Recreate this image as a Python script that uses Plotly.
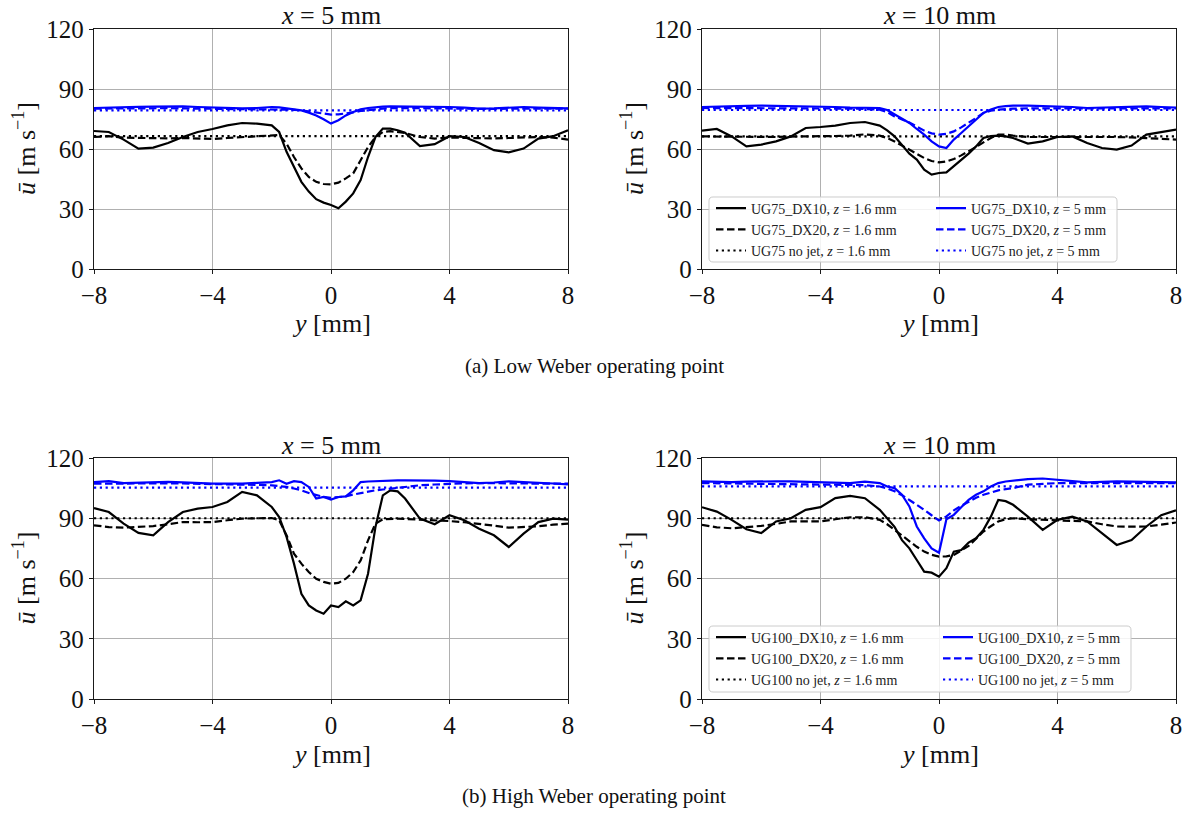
import plotly.graph_objects as go

W, H = 1188, 813
FONT = "Liberation Serif"

# ---------------- data ----------------
y_mm = [-8, -7.5, -7, -6.5, -6, -5.5, -5, -4.5, -4, -3.5, -3, -2.5, -2,
        -1.75, -1.5, -1.25, -1, -0.75, -0.5, -0.25, 0, 0.25, 0.5, 0.75, 1, 1.25, 1.5, 1.75, 2, 2.25,
        2.5, 3, 3.5, 4, 4.5, 5, 5.5, 6, 6.5, 7, 7.5, 8]
y_nojet = [-8, 8]

# (a) low Weber, x = 5 mm
a_dx10_z16 = [69.0, 68.5, 64.7, 60.2, 60.7, 63.0, 66.0, 68.5, 70.0, 71.8, 73.0, 72.7, 71.8,
              68.5, 58.6, 51.0, 43.6, 38.7, 34.9, 33.2, 32.0, 30.4, 33.7, 37.8, 44.5, 56.0, 66.0, 70.2, 70.2, 69.4,
              68.2, 61.5, 62.4, 66.4, 66.0, 63.0, 59.4, 58.3, 60.2, 65.2, 66.4, 69.4]
a_dx20_z16 = [66.0, 66.4, 65.7, 65.5, 65.2, 65.3, 65.5, 65.2, 65.0, 65.5, 66.0, 66.5, 67.0,
              67.0, 62.7, 56.0, 50.3, 46.0, 43.6, 42.5, 42.3, 43.2, 45.3, 47.8, 54.4, 61.0, 66.0, 68.5, 68.9, 68.5,
              68.0, 66.0, 65.2, 65.7, 65.5, 65.2, 65.3, 65.5, 65.8, 66.0, 65.7, 64.7]
a_nojet_z16 = [66.4, 66.4]
a_dx10_z5 = [80.5, 80.8, 81.0, 81.1, 81.2, 81.3, 81.3, 81.0, 80.7, 80.5, 80.3, 80.5, 81.0,
             80.8, 80.3, 79.8, 79.3, 78.2, 76.8, 74.9, 72.7, 74.4, 76.8, 78.5, 79.8, 80.5, 81.0, 81.2, 81.3, 81.3,
             81.2, 81.0, 81.0, 81.0, 80.7, 80.2, 80.3, 80.7, 81.0, 80.7, 80.5, 80.3]
a_dx20_z5 = [80.2, 80.3, 80.4, 80.5, 80.5, 80.4, 80.3, 80.2, 80.1, 80.0, 80.0, 80.0, 80.0,
             79.9, 79.8, 79.6, 79.3, 78.8, 78.0, 77.5, 77.2, 77.3, 77.7, 78.3, 79.0, 79.5, 80.0, 80.2, 80.4, 80.5,
             80.5, 80.4, 80.3, 80.3, 80.2, 80.0, 80.0, 80.2, 80.3, 80.3, 80.2, 80.2]
a_nojet_z5 = [79.3, 79.3]

# (a) low Weber, x = 10 mm
b_dx10_z16 = [69.2, 70.0, 66.3, 61.3, 62.2, 63.8, 66.3, 70.5, 71.0, 71.7, 73.0, 73.5, 71.7,
              69.3, 66.3, 62.2, 57.7, 54.7, 49.7, 47.2, 48.0, 48.3, 51.3, 54.7, 57.7, 61.3, 65.5, 66.5, 66.7, 66.3,
              65.5, 62.7, 63.8, 66.0, 66.3, 63.0, 60.5, 59.7, 61.7, 67.2, 68.3, 69.7]
b_dx20_z16 = [66.3, 66.2, 66.0, 66.0, 66.0, 66.0, 66.2, 66.2, 66.3, 66.5, 66.7, 67.3, 66.7,
              65.5, 63.8, 61.8, 59.7, 57.5, 55.5, 54.0, 53.3, 53.8, 55.0, 56.8, 58.8, 61.0, 63.3, 65.5, 67.2, 67.2,
              66.7, 66.0, 66.0, 66.0, 66.2, 66.0, 66.0, 66.0, 65.8, 65.5, 65.0, 64.7]
b_nojet_z16 = [66.3, 66.3]
b_dx10_z5 = [81.0, 81.3, 81.5, 81.6, 81.7, 81.6, 81.5, 81.4, 81.3, 81.0, 80.7, 80.5, 80.5,
             79.5, 77.2, 75.2, 73.0, 70.0, 67.2, 63.8, 61.3, 60.5, 64.7, 68.0, 71.3, 75.0, 78.0, 79.8, 81.0, 81.4,
             81.7, 81.7, 81.5, 81.3, 81.0, 80.5, 80.7, 81.0, 81.2, 81.3, 81.0, 80.7]
b_dx20_z5 = [80.5, 80.5, 80.5, 80.5, 80.5, 80.5, 80.5, 80.5, 80.5, 80.4, 80.2, 80.0, 79.7,
             78.5, 76.3, 74.8, 73.3, 71.2, 69.2, 67.8, 67.2, 67.6, 68.8, 70.8, 73.0, 75.5, 78.0, 79.2, 79.7, 80.0,
             80.2, 80.3, 80.3, 80.3, 80.3, 80.3, 80.3, 80.3, 80.3, 80.3, 80.3, 80.3]
b_nojet_z5 = [79.5, 79.5]

# (b) high Weber, x = 5 mm
c_dx10_z16 = [95.1, 93.1, 87.3, 82.7, 81.5, 88.1, 93.1, 94.8, 95.6, 98.1, 103.1, 101.4, 95.6,
              90.6, 80.7, 67.4, 52.4, 46.6, 44.1, 42.5, 46.6, 45.8, 48.6, 46.6, 49.1, 62.4, 85.6, 101.4, 103.9, 103.4,
              99.8, 89.8, 87.0, 91.5, 89.0, 84.8, 81.5, 75.7, 82.3, 88.1, 89.8, 89.3]
c_dx20_z16 = [86.5, 85.6, 85.3, 85.6, 86.1, 87.0, 88.1, 88.0, 88.1, 89.0, 89.8, 90.0, 90.1,
              89.0, 81.5, 72.4, 67.4, 63.2, 59.9, 58.3, 57.4, 57.8, 59.9, 63.2, 69.0, 79.0, 87.3, 89.5, 89.8, 89.8,
              89.6, 89.3, 88.8, 88.6, 88.0, 87.3, 86.3, 85.3, 85.6, 86.0, 86.8, 87.3]
c_nojet_z16 = [90.0, 90.0]
c_dx10_z5 = [108.0, 108.5, 107.5, 107.8, 108.0, 108.1, 107.9, 107.5, 107.2, 107.2, 107.2, 107.6, 108.0,
             108.9, 107.2, 108.5, 108.0, 105.6, 99.8, 100.6, 99.3, 100.6, 100.9, 103.9, 108.0, 108.3, 108.5, 108.7, 108.9, 108.9,
             108.9, 108.9, 108.7, 108.5, 108.0, 107.5, 107.8, 108.4, 108.0, 107.5, 107.3, 106.9]
c_dx20_z5 = [107.2, 107.3, 107.4, 107.5, 107.5, 107.4, 107.3, 107.2, 107.2, 107.0, 106.8, 106.6, 106.4,
             106.0, 105.6, 104.8, 103.9, 102.6, 101.4, 100.6, 100.2, 100.4, 100.9, 101.8, 102.6, 103.3, 103.9, 104.3, 104.7, 105.2,
             105.6, 106.4, 106.8, 107.2, 107.4, 107.5, 107.4, 107.2, 107.2, 107.2, 107.2, 107.2]
c_nojet_z5 = [105.2, 105.2]

# (b) high Weber, x = 10 mm
d_dx10_z16 = [95.5, 93.3, 89.2, 84.5, 82.6, 88.4, 90.0, 94.2, 95.5, 100.0, 101.1, 100.0, 94.2,
              90.0, 85.7, 79.1, 75.0, 69.2, 63.4, 62.9, 60.9, 65.1, 73.4, 74.2, 77.9, 80.0, 84.2, 90.8, 99.1, 98.5,
              96.7, 90.8, 84.2, 89.2, 90.8, 88.4, 82.6, 76.7, 79.2, 85.9, 91.5, 93.9]
d_dx20_z16 = [86.7, 85.5, 85.0, 85.5, 86.2, 87.2, 88.4, 88.4, 88.4, 89.5, 90.5, 90.5, 89.2,
              87.0, 84.2, 81.3, 78.4, 75.8, 73.4, 71.8, 70.9, 71.0, 71.7, 73.8, 76.2, 79.8, 83.4, 86.0, 88.4, 89.5,
              90.0, 89.5, 89.2, 88.9, 88.6, 88.4, 87.0, 85.9, 85.8, 85.9, 86.8, 87.9]
d_nojet_z16 = [90.0, 90.0]
d_dx10_z5 = [108.4, 108.2, 108.0, 108.2, 108.4, 108.4, 108.4, 108.1, 107.9, 107.7, 107.5, 108.2, 107.5,
             105.8, 105.0, 101.7, 95.9, 85.9, 80.0, 75.0, 72.8, 89.5, 91.7, 95.5, 99.1, 101.7, 103.4, 105.8, 107.5, 108.3,
             108.8, 109.5, 109.8, 109.2, 108.5, 107.9, 108.1, 108.4, 108.2, 108.0, 107.9, 107.9]
d_dx20_z5 = [107.5, 107.4, 107.3, 107.2, 107.2, 107.1, 107.0, 107.0, 107.0, 106.8, 106.7, 106.5, 105.8,
             104.8, 103.4, 101.5, 99.1, 96.8, 94.2, 91.5, 88.9, 90.9, 93.9, 96.2, 98.4, 100.2, 101.7, 102.9, 103.9, 104.5,
             105.0, 106.7, 107.2, 107.5, 107.5, 107.5, 107.5, 107.5, 107.5, 107.5, 107.5, 107.5]
d_nojet_z5 = [105.9, 105.9]

x_ticks = [-8, -4, 0, 4, 8]
u_ticks = [0, 30, 60, 90, 120]
panel_titles = ["<i>x</i> = 5 mm", "<i>x</i> = 10 mm", "<i>x</i> = 5 mm", "<i>x</i> = 10 mm"]
captions = ["(a) Low Weber operating point", "(b) High Weber operating point"]
ug_names = ["UG75", "UG75", "UG100", "UG100"]

panels = [
    (a_dx10_z16, a_dx20_z16, a_nojet_z16, a_dx10_z5, a_dx20_z5, a_nojet_z5),
    (b_dx10_z16, b_dx20_z16, b_nojet_z16, b_dx10_z5, b_dx20_z5, b_nojet_z5),
    (c_dx10_z16, c_dx20_z16, c_nojet_z16, c_dx10_z5, c_dx20_z5, c_nojet_z5),
    (d_dx10_z16, d_dx20_z16, d_nojet_z16, d_dx10_z5, d_dx20_z5, d_nojet_z5),
]


# ---------------- layout helpers (pixel -> paper) ----------------
def px(x):
    return x / W


def py(y):
    return 1 - y / H


x_doms = [(94, 568), (702, 1176), (94, 568), (702, 1176)]
y_doms = [(29, 269), (29, 269), (458, 699), (458, 699)]

BLACK = "#000000"
BLUE = "#0000ff"
DASH = "7.5px,3.5px"
DOT = "2.2px,3.6px"
LW = 2.2
TXT = "#111111"

fig = go.Figure()

for i, series in enumerate(panels):
    xa = "x" if i == 0 else f"x{i + 1}"
    ya = "y" if i == 0 else f"y{i + 1}"
    ug = ug_names[i]
    show = i in (1, 3)
    leg_black = "legend" if i == 1 else "legend3"
    leg_blue = "legend2" if i == 1 else "legend4"
    specs = [
        (series[0], y_mm, BLACK, "solid", f"{ug}_DX10, <i>z</i> = 1.6 mm", leg_black),
        (series[1], y_mm, BLACK, DASH, f"{ug}_DX20, <i>z</i> = 1.6 mm", leg_black),
        (series[2], y_nojet, BLACK, DOT, f"{ug} no jet, <i>z</i> = 1.6 mm", leg_black),
        (series[3], y_mm, BLUE, "solid", f"{ug}_DX10, <i>z</i> = 5 mm", leg_blue),
        (series[4], y_mm, BLUE, DASH, f"{ug}_DX20, <i>z</i> = 5 mm", leg_blue),
        (series[5], y_nojet, BLUE, DOT, f"{ug} no jet, <i>z</i> = 5 mm", leg_blue),
    ]
    for vals, ys, col, dash, name, leg in specs:
        fig.add_trace(go.Scatter(
            x=ys, y=vals, mode="lines", name=name,
            line=dict(color=col, width=LW, dash=dash),
            xaxis=xa, yaxis=ya, showlegend=show, legend=leg,
            hoverinfo="skip",
        ))

axis_common = dict(
    showline=True, mirror=True, linecolor="#1a1a1a", linewidth=1.3,
    showgrid=True, gridcolor="#b0b0b0", gridwidth=1,
    zeroline=False, ticks="outside", ticklen=4, tickwidth=1.1, tickcolor="#1a1a1a",
    tickfont=dict(family=FONT, size=25, color=TXT),
    fixedrange=True, automargin=False,
)

layout = dict(
    width=W, height=H,
    margin=dict(l=0, r=0, t=0, b=0, pad=0, autoexpand=False),
    paper_bgcolor="white", plot_bgcolor="white",
    font=dict(family=FONT, color=TXT),
    showlegend=True,
)

for i in range(4):
    sx = "xaxis" if i == 0 else f"xaxis{i + 1}"
    sy = "yaxis" if i == 0 else f"yaxis{i + 1}"
    ya = "y" if i == 0 else f"y{i + 1}"
    xa = "x" if i == 0 else f"x{i + 1}"
    x0, x1 = x_doms[i]
    y0, y1 = y_doms[i]
    layout[sx] = dict(axis_common, domain=[px(x0), px(x1)], range=[-8, 8],
                      tickvals=x_ticks, anchor=ya)
    layout[sy] = dict(axis_common, domain=[py(y1), py(y0)], range=[0, 120],
                      tickvals=u_ticks, anchor=xa)

# legends: black column and blue column for each right-hand panel
leg_font = dict(family=FONT, size=14, color="#222222")
leg_common = dict(xanchor="left", yanchor="top", bgcolor="rgba(0,0,0,0)", borderwidth=0,
                  font=leg_font, tracegroupgap=0, itemwidth=30, orientation="v",
                  itemclick=False, itemdoubleclick=False)
layout["legend"] = dict(leg_common, x=px(711), y=py(192.5))
layout["legend2"] = dict(leg_common, x=px(931), y=py(192.5))
layout["legend3"] = dict(leg_common, x=px(711), y=py(621.5))
layout["legend4"] = dict(leg_common, x=px(938), y=py(621.5))


def rounded_box(x0, y0, x1, y1, r=4):
    p = lambda a, b: f"{px(a):.5f},{py(b):.5f}"
    return (f"M {p(x0 + r, y0)} L {p(x1 - r, y0)} Q {p(x1, y0)} {p(x1, y0 + r)} "
            f"L {p(x1, y1 - r)} Q {p(x1, y1)} {p(x1 - r, y1)} "
            f"L {p(x0 + r, y1)} Q {p(x0, y1)} {p(x0, y1 - r)} "
            f"L {p(x0, y0 + r)} Q {p(x0, y0)} {p(x0 + r, y0)} Z")


shapes = []
for (bx0, by0, bx1, by1) in [(709, 197, 1117, 262), (709, 626, 1131, 692)]:
    shapes.append(dict(type="path", xref="paper", yref="paper",
                       path=rounded_box(bx0, by0, bx1, by1),
                       line=dict(color="#cccccc", width=1),
                       fillcolor="rgba(255,255,255,0.85)", layer="above"))
layout["shapes"] = shapes

annotations = []
for i in range(4):
    x0, x1 = x_doms[i]
    y0, y1 = y_doms[i]
    cx = (x0 + x1) / 2
    # panel title
    annotations.append(dict(text=panel_titles[i], x=px(cx), y=py(y0 - 13), xref="paper", yref="paper",
                            xanchor="center", yanchor="middle", showarrow=False,
                            font=dict(family=FONT, size=26, color=TXT)))
    # x-axis title
    annotations.append(dict(text="<i>y</i> [mm]", x=px(cx), y=py(y1 + 55), xref="paper", yref="paper",
                            xanchor="center", yanchor="middle", showarrow=False,
                            font=dict(family=FONT, size=26, color=TXT)))
    # y-axis title
    annotations.append(dict(text="<i>ū</i> [m s<sup>−1</sup>]", x=px(x0 - 69), y=py((y0 + y1) / 2),
                            xref="paper", yref="paper", xanchor="center", yanchor="middle",
                            textangle=-90, showarrow=False,
                            font=dict(family=FONT, size=26, color=TXT)))

annotations.append(dict(text=captions[0], x=px(594), y=py(366), xref="paper", yref="paper",
                        xanchor="center", yanchor="middle", showarrow=False,
                        font=dict(family=FONT, size=21, color=TXT)))
annotations.append(dict(text=captions[1], x=px(594), y=py(796), xref="paper", yref="paper",
                        xanchor="center", yanchor="middle", showarrow=False,
                        font=dict(family=FONT, size=21, color=TXT)))
layout["annotations"] = annotations

fig.update_layout(**layout)
# let the figure fill the window from its top-left corner (no default page margin)
fig.write_html("out.html",
               config={"displayModeBar": False},
               post_script="document.body.style.margin='0px';document.body.style.overflow='hidden';")
